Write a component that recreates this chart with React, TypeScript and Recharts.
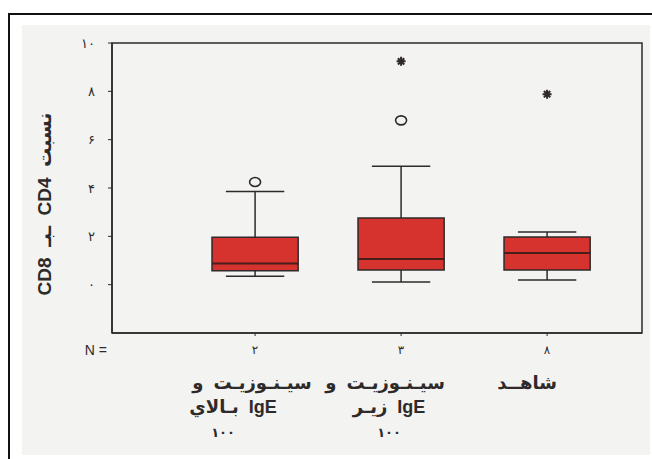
import React from 'react';
import {
  ScatterChart,
  Scatter,
  XAxis,
  YAxis,
  ReferenceArea,
  ReferenceLine,
} from 'recharts';

// groups on the x axis
const GROUP_X = [1, 2, 3];
const COUNT_LABELS = ['۲', '۳', '۸'];
const GROUP_LINES = [
  ['سیـنـوزیـت  و', 'IgE  بـالاي', '۱۰۰'],
  ['سیـنـوزیـت  و', 'IgE  زیـر', '۱۰۰'],
  ['شاهــد'],
];

// box plot stats per group
const LOWER_WHISKER = [0.35, 0.11, 0.19];
const Q1 = [0.58, 0.61, 0.61];
const MEDIAN = [0.88, 1.06, 1.31];
const Q3 = [1.96, 2.76, 1.97];
const UPPER_WHISKER = [3.86, 4.9, 2.18];

// outliers (o) and extremes (*)
const OUTLIERS = [
  { x: 1, y: 4.25 },
  { x: 2, y: 6.8 },
];
const EXTREMES = [
  { x: 2, y: 9.24 },
  { x: 3, y: 7.88 },
];

const Y_TICKS = [0, 2, 4, 6, 8, 10];
const Y_TICK_LABELS = ['۰', '۲', '۴', '۶', '۸', '۱۰'];

const FONT = '"Liberation Sans", Arial, "DejaVu Sans", sans-serif';
const INK = '#2e2a2a';
const BOX_FILL = '#d6322e';
const BOX_HALF = 0.295;
const CAP_HALF = 0.2;
const X_DOMAIN: [number, number] = [0.02, 3.65];
const Y_DOMAIN: [number, number] = [-2, 10];

// horizontal shift of each caption line from its tick, px
const CAPTION_SHIFT = [
  [-3, -22, -32],
  [-16, -12, -12],
  [-20],
];

const CircleMark = (props: any) => (
  <ellipse cx={props.cx} cy={props.cy} rx={5.5} ry={4.5} fill="none" stroke={INK} strokeWidth={1.6} />
);

const StarMark = (props: any) => {
  const { cx, cy } = props;
  const r = 4.5;
  const d = [0, 45, 90, 135]
    .map((a) => {
      const rad = (a * Math.PI) / 180;
      const dx = Math.cos(rad) * r;
      const dy = Math.sin(rad) * r;
      return `M${cx - dx},${cy - dy}L${cx + dx},${cy + dy}`;
    })
    .join('');
  return <path d={d} stroke={INK} strokeWidth={2} />;
};

const GroupTick = (props: any) => {
  const { x, y, index } = props;
  const lines = GROUP_LINES[index] || [];
  return (
    <g>
      <text x={x} y={y + 16} textAnchor="middle" fontSize={12} fill={INK} fontFamily={FONT}>
        {COUNT_LABELS[index]}
      </text>
      {lines.map((line, i) => (
        <text
          key={i}
          x={x + CAPTION_SHIFT[index][i]}
          y={y + 51 + i * 24}
          textAnchor="middle"
          direction="rtl"
          fontSize={i === 2 ? 13 : 18}
          fontWeight="bold"
          fill={INK}
          fontFamily={FONT}
          style={{ whiteSpace: 'pre' }}
        >
          {line}
        </text>
      ))}
    </g>
  );
};

export default function App() {
  return (
    <div style={{ position: 'relative', width: 652, height: 459, background: '#fff', overflow: 'hidden' }}>
      <style>{`body{margin:0}`}</style>
      <div
        style={{
          position: 'absolute',
          left: 8,
          top: 13,
          width: 660,
          height: 480,
          border: '2px solid #111',
          boxSizing: 'border-box',
        }}
      />
      <div style={{ position: 'absolute', left: 22, top: 25, width: 628, height: 430, background: '#f3f3f2' }} />
      <div style={{ position: 'absolute', left: 0, top: 0 }}>
        <ScatterChart width={652} height={459} margin={{ top: 43, right: 10, bottom: 0, left: 0 }}>
          <XAxis
            type="number"
            dataKey="x"
            domain={X_DOMAIN}
            ticks={GROUP_X}
            allowDataOverflow
            height={126}
            axisLine={{ stroke: INK, strokeWidth: 1.5 }}
            tickLine={{ stroke: INK }}
            tickSize={3}
            tick={<GroupTick />}
            label={{
              content: ({ viewBox }: any) => (
                <text x={viewBox.x - 5} y={viewBox.y + 22} textAnchor="end" fontSize={14} fill={INK} fontFamily={FONT}>
                  N =
                </text>
              ),
            }}
          />
          <YAxis
            type="number"
            dataKey="y"
            domain={Y_DOMAIN}
            ticks={Y_TICKS}
            allowDataOverflow
            width={112}
            axisLine={{ stroke: INK, strokeWidth: 1.5 }}
            tickLine={{ stroke: INK }}
            tickSize={4}
            tickMargin={13}
            tick={{ fontSize: 13, fill: INK, fontFamily: FONT }}
            tickFormatter={(v: number) => Y_TICK_LABELS[Y_TICKS.indexOf(v)]}
            label={{
              content: ({ viewBox }: any) => {
                const lx = viewBox.x + 51;
                const ly = viewBox.y + viewBox.height / 2 + 16;
                return (
                  <text
                    x={lx}
                    y={ly}
                    transform={`rotate(-90, ${lx}, ${ly})`}
                    textAnchor="middle"
                    direction="rtl"
                    fontSize={19}
                    fontWeight="bold"
                    fill={INK}
                    fontFamily={FONT}
                    style={{ whiteSpace: 'pre' }}
                  >
                    نسبت  CD4  ـبـ  CD8
                  </text>
                );
              },
            }}
          />
          <ReferenceArea
            x1={X_DOMAIN[0]}
            x2={X_DOMAIN[1]}
            y1={Y_DOMAIN[0]}
            y2={Y_DOMAIN[1]}
            fill="none"
            stroke={INK}
            strokeWidth={1.5}
            ifOverflow="visible"
          />
          {GROUP_X.map((c, i) => (
            <ReferenceArea
              key={`box-${i}`}
              x1={c - BOX_HALF}
              x2={c + BOX_HALF}
              y1={Q1[i]}
              y2={Q3[i]}
              fill={BOX_FILL}
              fillOpacity={1}
              stroke={INK}
              strokeWidth={1.5}
            />
          ))}
          {GROUP_X.map((c, i) => (
            <ReferenceLine
              key={`wu-${i}`}
              segment={[{ x: c, y: Q3[i] }, { x: c, y: UPPER_WHISKER[i] }]}
              stroke={INK}
              strokeWidth={1.5}
            />
          ))}
          {GROUP_X.map((c, i) => (
            <ReferenceLine
              key={`wl-${i}`}
              segment={[{ x: c, y: LOWER_WHISKER[i] }, { x: c, y: Q1[i] }]}
              stroke={INK}
              strokeWidth={1.5}
            />
          ))}
          {GROUP_X.map((c, i) => (
            <ReferenceLine
              key={`cu-${i}`}
              segment={[{ x: c - CAP_HALF, y: UPPER_WHISKER[i] }, { x: c + CAP_HALF, y: UPPER_WHISKER[i] }]}
              stroke={INK}
              strokeWidth={1.5}
            />
          ))}
          {GROUP_X.map((c, i) => (
            <ReferenceLine
              key={`cl-${i}`}
              segment={[{ x: c - CAP_HALF, y: LOWER_WHISKER[i] }, { x: c + CAP_HALF, y: LOWER_WHISKER[i] }]}
              stroke={INK}
              strokeWidth={1.5}
            />
          ))}
          {GROUP_X.map((c, i) => (
            <ReferenceLine
              key={`med-${i}`}
              segment={[{ x: c - BOX_HALF, y: MEDIAN[i] }, { x: c + BOX_HALF, y: MEDIAN[i] }]}
              stroke="#4a1c1a"
              strokeWidth={2}
            />
          ))}
          <Scatter data={OUTLIERS} shape={<CircleMark />} isAnimationActive={false} />
          <Scatter data={EXTREMES} shape={<StarMark />} isAnimationActive={false} />
        </ScatterChart>
      </div>
    </div>
  );
}
